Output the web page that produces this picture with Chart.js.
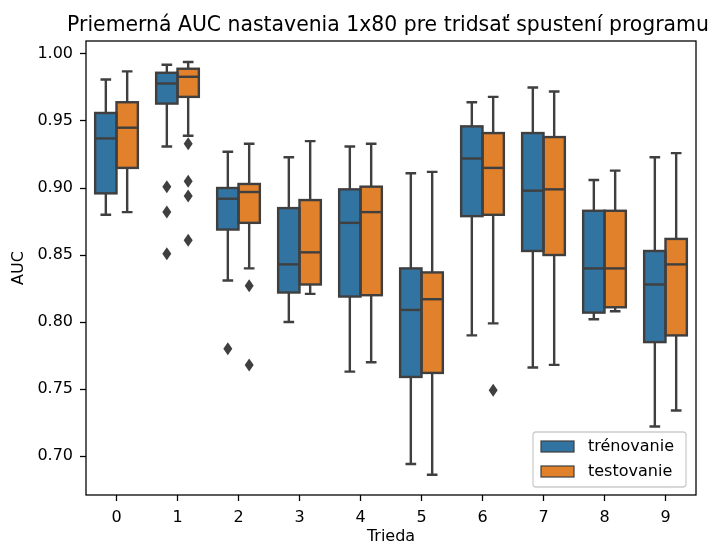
<!DOCTYPE html>
<html>
<head>
<meta charset="utf-8">
<script src="https://cdn.jsdelivr.net/npm/chart.js@4.4.1/dist/chart.umd.min.js"></script>
<style>
  html, body { margin: 0; padding: 0; background: #ffffff; }
  #wrap { width: 715px; height: 545px; }
</style>
</head>
<body>
<div id="wrap"><canvas id="c" width="715" height="545"></canvas></div>
<script>
// ---- data ----
const categories = ['0', '1', '2', '3', '4', '5', '6', '7', '8', '9'];
const seriesNames = ['trénovanie', 'testovanie'];
const yTicks = [0.70, 0.75, 0.80, 0.85, 0.90, 0.95, 1.00];

const trainLow  = [0.880, 0.931, 0.831, 0.800, 0.763, 0.694, 0.790, 0.766, 0.802, 0.722];
const trainQ1   = [0.896, 0.963, 0.869, 0.822, 0.819, 0.759, 0.879, 0.853, 0.807, 0.785];
const trainMed  = [0.937, 0.978, 0.892, 0.843, 0.874, 0.809, 0.922, 0.898, 0.840, 0.828];
const trainQ3   = [0.956, 0.986, 0.900, 0.885, 0.899, 0.840, 0.946, 0.941, 0.883, 0.853];
const trainHigh = [0.981, 0.992, 0.927, 0.923, 0.931, 0.911, 0.964, 0.975, 0.906, 0.923];
const trainOutliers = [[], [0.901, 0.882, 0.851], [0.780], [], [], [], [], [], [], []];

const testLow  = [0.882, 0.939, 0.840, 0.821, 0.770, 0.686, 0.799, 0.768, 0.808, 0.734];
const testQ1   = [0.915, 0.968, 0.874, 0.828, 0.820, 0.762, 0.880, 0.850, 0.811, 0.790];
const testMed  = [0.945, 0.983, 0.897, 0.852, 0.882, 0.817, 0.915, 0.899, 0.840, 0.843];
const testQ3   = [0.964, 0.989, 0.903, 0.891, 0.901, 0.837, 0.941, 0.938, 0.883, 0.862];
const testHigh = [0.987, 0.994, 0.933, 0.935, 0.933, 0.912, 0.968, 0.972, 0.913, 0.926];
const testOutliers = [[], [0.933, 0.905, 0.894, 0.861], [0.827, 0.768], [], [], [], [0.749], [], [], []];

// ---- styles ----
const COLORS = ['#3274a1', '#e1812c'];
const LINE = '#3f3f3f';
const LW = 2.4;
const GROUP_FRAC = 0.7;
const FONT = 'DejaVu Sans';

const stats = [
  { low: trainLow, q1: trainQ1, med: trainMed, q3: trainQ3, high: trainHigh, out: trainOutliers },
  { low: testLow, q1: testQ1, med: testMed, q3: testQ3, high: testHigh, out: testOutliers }
];

const datasets = stats.map((s, k) => ({
  type: 'bar',
  label: seriesNames[k],
  data: s.q1.map((q, i) => [q, s.q3[i]]),
  backgroundColor: COLORS[k],
  borderWidth: 0,
  categoryPercentage: GROUP_FRAC,
  barPercentage: 1.0
}));

function drawDiamond(ctx, x, y, hw, hh) {
  ctx.beginPath();
  ctx.moveTo(x, y - hh);
  ctx.lineTo(x + hw, y);
  ctx.lineTo(x, y + hh);
  ctx.lineTo(x - hw, y);
  ctx.closePath();
  ctx.fill();
}

const boxPlugin = {
  id: 'boxPlugin',
  afterDatasetsDraw(chart) {
    const ctx = chart.ctx;
    const y = chart.scales.y;
    ctx.save();
    ctx.strokeStyle = LINE;
    ctx.fillStyle = LINE;
    ctx.lineWidth = LW;
    ctx.lineCap = 'butt';
    stats.forEach((s, k) => {
      const meta = chart.getDatasetMeta(k);
      meta.data.forEach((bar, i) => {
        const cx = bar.x, w = bar.width;
        const top = y.getPixelForValue(s.q3[i]);
        const bot = y.getPixelForValue(s.q1[i]);
        const hi = y.getPixelForValue(s.high[i]);
        const lo = y.getPixelForValue(s.low[i]);
        const md = y.getPixelForValue(s.med[i]);
        const cap = w / 2;
        ctx.beginPath();
        ctx.moveTo(cx, top); ctx.lineTo(cx, hi);
        ctx.moveTo(cx, bot); ctx.lineTo(cx, lo);
        ctx.moveTo(cx - cap / 2, hi); ctx.lineTo(cx + cap / 2, hi);
        ctx.moveTo(cx - cap / 2, lo); ctx.lineTo(cx + cap / 2, lo);
        ctx.stroke();
        ctx.strokeRect(cx - w / 2, top, w, bot - top);
        ctx.beginPath();
        ctx.moveTo(cx - w / 2, md); ctx.lineTo(cx + w / 2, md);
        ctx.stroke();
        s.out[i].forEach(v => drawDiamond(ctx, cx, y.getPixelForValue(v), 4.5, 6.5));
      });
    });
    ctx.restore();
  },
  afterDraw(chart) {
    const ctx = chart.ctx;
    const a = chart.chartArea;
    ctx.save();
    // frame
    ctx.strokeStyle = '#000';
    ctx.lineWidth = 1.28;
    ctx.strokeRect(a.left, a.top, a.right - a.left, a.bottom - a.top);
    // title
    ctx.fillStyle = '#000';
    ctx.font = '20.4px "' + FONT + '"';
    ctx.textAlign = 'center';
    ctx.textBaseline = 'alphabetic';
    ctx.fillText('Priemerná AUC nastavenia 1x80 pre tridsať spustení programu', (a.left + a.right) / 2 - 3, 31);
    // axis labels
    ctx.font = '16px "' + FONT + '"';
    ctx.textBaseline = 'middle';
    ctx.fillText('Trieda', (a.left + a.right) / 2, 537);
    ctx.save();
    ctx.translate(19, (a.top + a.bottom) / 2);
    ctx.rotate(-Math.PI / 2);
    ctx.fillText('AUC', 0, 0);
    ctx.restore();
    // legend
    const lx = 533, ly = 432, lw = 153, lh = 55;
    ctx.beginPath();
    ctx.roundRect(lx, ly, lw, lh, 3);
    ctx.fillStyle = 'rgba(255,255,255,0.8)';
    ctx.fill();
    ctx.strokeStyle = '#cccccc';
    ctx.lineWidth = 1.28;
    ctx.stroke();
    seriesNames.forEach((name, k) => {
      const cy = 446.5 + k * 25;
      ctx.fillStyle = COLORS[k];
      ctx.fillRect(541, cy - 5.5, 33, 11);
      ctx.strokeStyle = LINE;
      ctx.lineWidth = 1.2;
      ctx.strokeRect(541, cy - 5.5, 33, 11);
      ctx.fillStyle = '#000';
      ctx.font = '16px "' + FONT + '"';
      ctx.textAlign = 'left';
      ctx.textBaseline = 'middle';
      ctx.fillText(name, 588, cy);
    });
    ctx.restore();
  }
};

new Chart(document.getElementById('c'), {
  type: 'bar',
  data: { labels: categories, datasets },
  options: {
    responsive: false,
    devicePixelRatio: 1,
    animation: false,
    layout: { padding: { left: 0, right: 19, top: 41, bottom: 0 } },
    plugins: {
      legend: { display: false },
      title: { display: false },
      tooltip: { enabled: false }
    },
    scales: {
      x: {
        type: 'category',
        offset: true,
        border: { display: false },
        grid: { display: true, drawOnChartArea: false, offset: false, tickLength: 6, tickColor: '#000', tickWidth: 1.28 },
        ticks: { color: '#000', font: { family: FONT, size: 16 }, padding: 7, maxRotation: 0 },
        afterFit(scale) { scale.height = 50; }
      },
      y: {
        type: 'linear',
        min: 0.6709,
        max: 1.0097,
        border: { display: false },
        grid: { display: true, drawOnChartArea: false, tickLength: 6, tickColor: '#000', tickWidth: 1.28 },
        ticks: { color: '#000', font: { family: FONT, size: 16 }, padding: 7,
                 callback: v => Number(v).toFixed(2) },
        afterBuildTicks(scale) { scale.ticks = yTicks.map(v => ({ value: v })); },
        afterFit(scale) { scale.width = 86; }
      }
    }
  },
  plugins: [boxPlugin]
});
</script>
</body>
</html>
